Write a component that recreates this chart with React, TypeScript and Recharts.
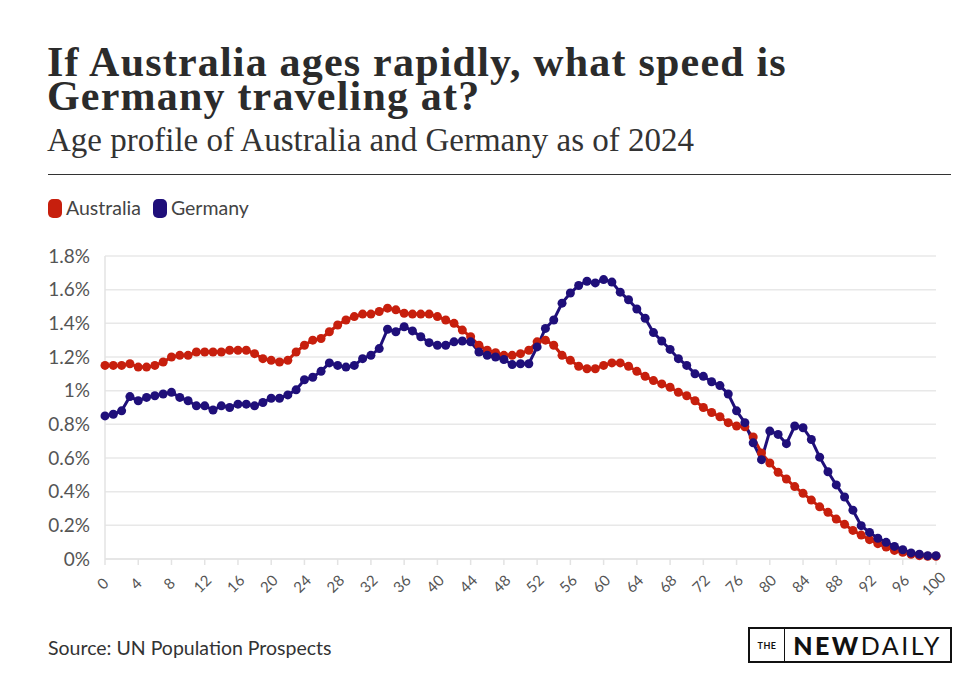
import React from "react"
import { LineChart, Line, XAxis, YAxis, CartesianGrid } from "recharts"

// age in years, 0..100
const ages = [
  0, 1, 2, 3, 4, 5, 6, 7, 8, 9, 10, 11, 12, 13, 14, 15, 16, 17, 18, 19, 20,
  21, 22, 23, 24, 25, 26, 27, 28, 29, 30, 31, 32, 33, 34, 35, 36, 37, 38, 39, 40,
  41, 42, 43, 44, 45, 46, 47, 48, 49, 50, 51, 52, 53, 54, 55, 56, 57, 58, 59, 60,
  61, 62, 63, 64, 65, 66, 67, 68, 69, 70, 71, 72, 73, 74, 75, 76, 77, 78, 79, 80,
  81, 82, 83, 84, 85, 86, 87, 88, 89, 90, 91, 92, 93, 94, 95, 96, 97, 98, 99, 100,
]

// share of population at each age, %
const australia = [
  1.15, 1.15, 1.15, 1.16, 1.14, 1.14, 1.15, 1.17, 1.2, 1.21, 1.21,
  1.23, 1.23, 1.23, 1.23, 1.24, 1.24, 1.24, 1.22, 1.19, 1.18,
  1.17, 1.18, 1.23, 1.27, 1.3, 1.31, 1.35, 1.39, 1.42, 1.44,
  1.455, 1.455, 1.47, 1.49, 1.48, 1.46, 1.455, 1.455, 1.455, 1.44,
  1.42, 1.4, 1.36, 1.32, 1.27, 1.24, 1.225, 1.21, 1.21, 1.22,
  1.24, 1.29, 1.3, 1.27, 1.21, 1.18, 1.145, 1.13, 1.13, 1.15,
  1.165, 1.165, 1.145, 1.115, 1.085, 1.06, 1.04, 1.02, 0.99, 0.97,
  0.94, 0.9, 0.87, 0.845, 0.81, 0.79, 0.785, 0.725, 0.63, 0.57,
  0.515, 0.475, 0.43, 0.39, 0.35, 0.31, 0.277, 0.237, 0.206, 0.17,
  0.142, 0.115, 0.091, 0.071, 0.051, 0.04, 0.028, 0.02, 0.016, 0.016,
]

const germany = [
  0.85, 0.86, 0.88, 0.965, 0.94, 0.96, 0.97, 0.98, 0.99, 0.96, 0.94,
  0.91, 0.91, 0.885, 0.91, 0.9, 0.92, 0.92, 0.91, 0.93, 0.955,
  0.955, 0.975, 1.005, 1.065, 1.08, 1.115, 1.165, 1.15, 1.14, 1.15,
  1.19, 1.21, 1.25, 1.365, 1.35, 1.38, 1.355, 1.32, 1.285, 1.27,
  1.27, 1.29, 1.295, 1.29, 1.23, 1.21, 1.2, 1.185, 1.155, 1.16,
  1.16, 1.26, 1.37, 1.42, 1.52, 1.58, 1.625, 1.65, 1.64, 1.66,
  1.645, 1.585, 1.54, 1.485, 1.43, 1.345, 1.295, 1.245, 1.19, 1.15,
  1.1, 1.085, 1.053, 1.03, 0.98, 0.88, 0.81, 0.69, 0.59, 0.76,
  0.74, 0.685, 0.79, 0.78, 0.71, 0.605, 0.518, 0.44, 0.368, 0.29,
  0.198, 0.158, 0.123, 0.099, 0.075, 0.055, 0.036, 0.028, 0.02, 0.02,
]

const xTicks = [0, 4, 8, 12, 16, 20, 24, 28, 32, 36, 40, 44, 48, 52, 56, 60, 64, 68, 72, 76, 80, 84, 88, 92, 96, 100]
const yTicks = [0, 0.2, 0.4, 0.6, 0.8, 1, 1.2, 1.4, 1.6, 1.8]

const RED = "#c71f0d"
const NAVY = "#1f0f7a"

const data = ages.map((age, i) => ({
  age,
  australia: australia[i],
  germany: germany[i],
}))

const XTick = (props: any) => {
  const { x, y, payload } = props
  const cx = x - 2
  const cy = y + 17
  return (
    <text
      x={cx}
      y={cy + 5}
      textAnchor="middle"
      transform={`rotate(-45, ${cx}, ${cy})`}
      fill="#555"
      fontSize={15}
      fontFamily="Lato"
    >
      {payload.value}
    </text>
  )
}

const LegendItem = ({ color, label }: { color: string; label: string }) => (
  <span style={{ display: "inline-flex", alignItems: "center", marginRight: 12 }}>
    <span
      style={{
        display: "inline-block",
        width: 14,
        height: 19,
        borderRadius: 5,
        background: color,
        marginRight: 4,
      }}
    />
    <span>{label}</span>
  </span>
)

const titleStyle: React.CSSProperties = {
  position: "absolute",
  left: 47,
  fontFamily: "Liberation Serif",
  fontWeight: 700,
  fontSize: 42,
  letterSpacing: 1.2,
  lineHeight: "34px",
  color: "#2b2b2b",
  whiteSpace: "nowrap",
}

export default function App() {
  return (
    <div
      style={{
        position: "absolute",
        left: 0,
        top: 0,
        width: 975,
        height: 678,
        background: "#fff",
        overflow: "hidden",
      }}
    >
      {/* headline, one div per line */}
      <div style={{ ...titleStyle, top: 45 }}>If Australia ages rapidly, what speed is</div>
      <div style={{ ...titleStyle, top: 79 }}>Germany traveling at?</div>
      <div
        style={{
          position: "absolute",
          left: 47,
          top: 124,
          fontFamily: "Liberation Serif",
          fontSize: 33,
          lineHeight: "32px",
          color: "#333",
          whiteSpace: "nowrap",
        }}
      >
        Age profile of Australia and Germany as of 2024
      </div>
      <div
        style={{
          position: "absolute",
          left: 48,
          top: 174,
          width: 903,
          height: 1,
          background: "#333",
        }}
      />

      {/* legend */}
      <div
        style={{
          position: "absolute",
          left: 48,
          top: 197,
          fontFamily: "Lato",
          fontSize: 19.5,
          lineHeight: "22px",
          color: "#444",
          display: "flex",
        }}
      >
        <LegendItem color={RED} label="Australia" />
        <LegendItem color={NAVY} label="Germany" />
      </div>

      <div style={{ position: "absolute", left: 0, top: 240 }}>
        <LineChart
          width={960}
          height={380}
          data={data}
          margin={{ top: 16, right: 24, bottom: 11, left: 0 }}
        >
          <CartesianGrid vertical={false} stroke="#e8e8e8" strokeWidth={1.5} />
          <XAxis
            dataKey="age"
            type="number"
            domain={[0, 100]}
            ticks={xTicks}
            interval={0}
            height={50}
            tick={<XTick />}
            tickSize={6}
            tickMargin={2}
            axisLine={{ stroke: "#e3e3e3", strokeWidth: 1.5 }}
            tickLine={{ stroke: "#e3e3e3", strokeWidth: 1.5 }}
          />
          <YAxis
            type="number"
            domain={[0, 1.8]}
            ticks={yTicks}
            interval={0}
            width={105}
            tickSize={0}
            tickMargin={15}
            tickFormatter={(v: number) => `${v}%`}
            tick={{ fill: "#555", fontSize: 19, fontFamily: "Lato" }}
            axisLine={{ stroke: "#e3e3e3", strokeWidth: 1.5 }}
            tickLine={false}
          />
          <Line
            dataKey="australia"
            stroke={RED}
            strokeWidth={3}
            dot={{ r: 4.5, fill: RED, stroke: RED, strokeWidth: 0 }}
            isAnimationActive={false}
          />
          <Line
            dataKey="germany"
            stroke={NAVY}
            strokeWidth={3}
            dot={{ r: 4.5, fill: NAVY, stroke: NAVY, strokeWidth: 0 }}
            isAnimationActive={false}
          />
        </LineChart>
      </div>

      {/* footer */}
      <div
        style={{
          position: "absolute",
          left: 48,
          top: 636,
          fontFamily: "Lato",
          fontSize: 19.5,
          lineHeight: "24px",
          color: "#333",
        }}
      >
        Source: UN Population Prospects
      </div>
      <div
        style={{
          position: "absolute",
          left: 748,
          top: 627,
          width: 200,
          height: 32,
          border: "2px solid #111",
          display: "flex",
          alignItems: "stretch",
          fontFamily: "Lato",
          color: "#111",
        }}
      >
        <div
          style={{
            width: 34,
            borderRight: "1.5px solid #111",
            display: "flex",
            alignItems: "center",
            justifyContent: "center",
            fontSize: 9,
            fontWeight: 700,
            letterSpacing: 0.5,
          }}
        >
          THE
        </div>
        <div
          style={{
            flex: 1,
            display: "flex",
            alignItems: "center",
            justifyContent: "center",
            fontSize: 25,
            letterSpacing: 2.5,
          }}
        >
          <span style={{ fontWeight: 900 }}>NEW</span>
          <span style={{ fontWeight: 400 }}>DAILY</span>
        </div>
      </div>
    </div>
  )
}
